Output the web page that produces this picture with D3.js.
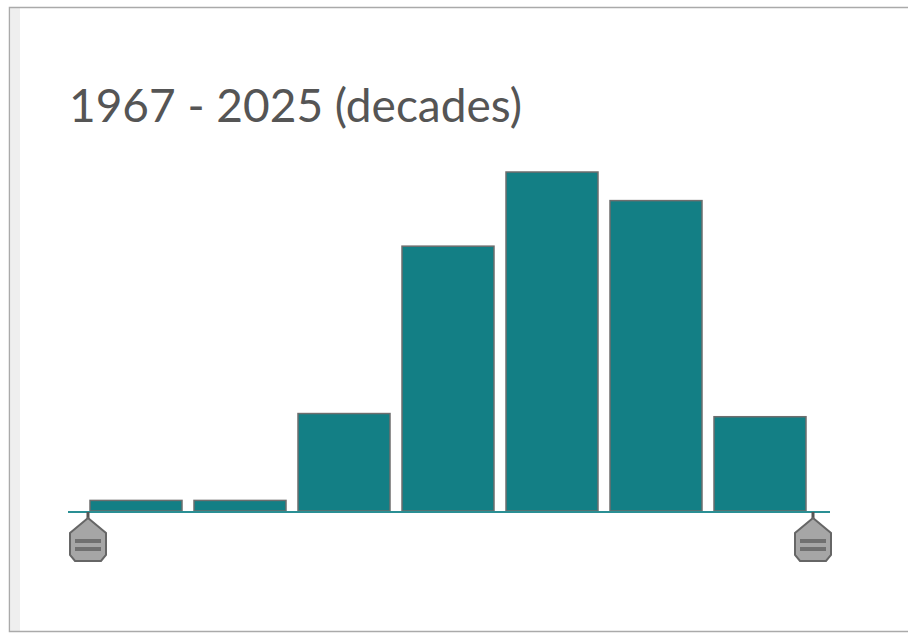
<!DOCTYPE html>
<html>
<head>
<meta charset="utf-8" />
<title>Decades histogram</title>
<script src="https://cdn.jsdelivr.net/npm/d3@7"></script>
<style>
    body { margin:0; background:#fff; }
    svg { display:block; }
    .title { font-family: "Lato", "Open Sans", sans-serif; font-size:46px; fill:#555; }
</style>
</head>
<body>
<svg id="chart" width="908" height="633"></svg>
<script>
// chart values
var decades = ["1960", "1970", "1980", "1990", "2000", "2010", "2020"];
var counts  = [1, 1, 9.2, 25, 32, 29.3, 8.9];
var yearRange = [1967, 2025];
var titleText = yearRange[0] + " - " + yearRange[1] + " (decades)";

var svg = d3.select("#chart");

// panel frame
svg.append("rect").attr("x", 11).attr("y", 8).attr("width", 9).attr("height", 623).attr("fill", "#efefef");
svg.append("path")
    .attr("d", "M940,7.5 H9.5 V631.5 H940")
    .attr("fill", "none").attr("stroke", "#aaa").attr("stroke-width", 1.5);

svg.append("text").attr("class", "title").attr("x", 69).attr("y", 122).text(titleText);

var baseY = 511;
var x = d3.scaleBand().domain(decades).range([84, 812]).paddingInner(12 / 104).paddingOuter(6 / 104);
var y = d3.scaleLinear().domain([0, d3.max(counts)]).range([baseY, 172]);

var data = decades.map(function(d, i) { return { decade: d, count: counts[i] }; });

svg.selectAll(".bar")
    .data(data)
    .enter().append("rect")
    .attr("class", "bar")
    .attr("x", function(d) { return x(d.decade); })
    .attr("y", function(d) { return y(d.count); })
    .attr("width", x.bandwidth())
    .attr("height", function(d) { return baseY - y(d.count); })
    .attr("fill", "#137f85")
    .attr("stroke", "#6e6e6e")
    .attr("stroke-width", 1.5);

// baseline
svg.append("line")
    .attr("x1", 68).attr("x2", 830)
    .attr("y1", baseY + 1).attr("y2", baseY + 1)
    .attr("stroke", "#2a8f94").attr("stroke-width", 2);

// slider handles
var sx = d3.scaleLinear().domain(yearRange).range([88, 813]);
var handle = svg.selectAll(".handle")
    .data(yearRange)
    .enter().append("g")
    .attr("class", "handle")
    .attr("transform", function(d) { return "translate(" + sx(d) + ",0)"; });

handle.append("line").attr("x1", 0).attr("x2", 0).attr("y1", 512).attr("y2", 519)
    .attr("stroke", "#555").attr("stroke-width", 3);
handle.append("path")
    .attr("d", "M0,518 L18,533 L18,555 L13,561 L-13,561 L-18,555 L-18,533 Z")
    .attr("fill", "#a6a6a6").attr("stroke", "#666").attr("stroke-width", 2);
handle.selectAll(".grip")
    .data([541, 549])
    .enter().append("rect")
    .attr("x", -13).attr("y", function(d) { return d - 2; })
    .attr("width", 26).attr("height", 4)
    .attr("fill", "#707070");
</script>
</body>
</html>
